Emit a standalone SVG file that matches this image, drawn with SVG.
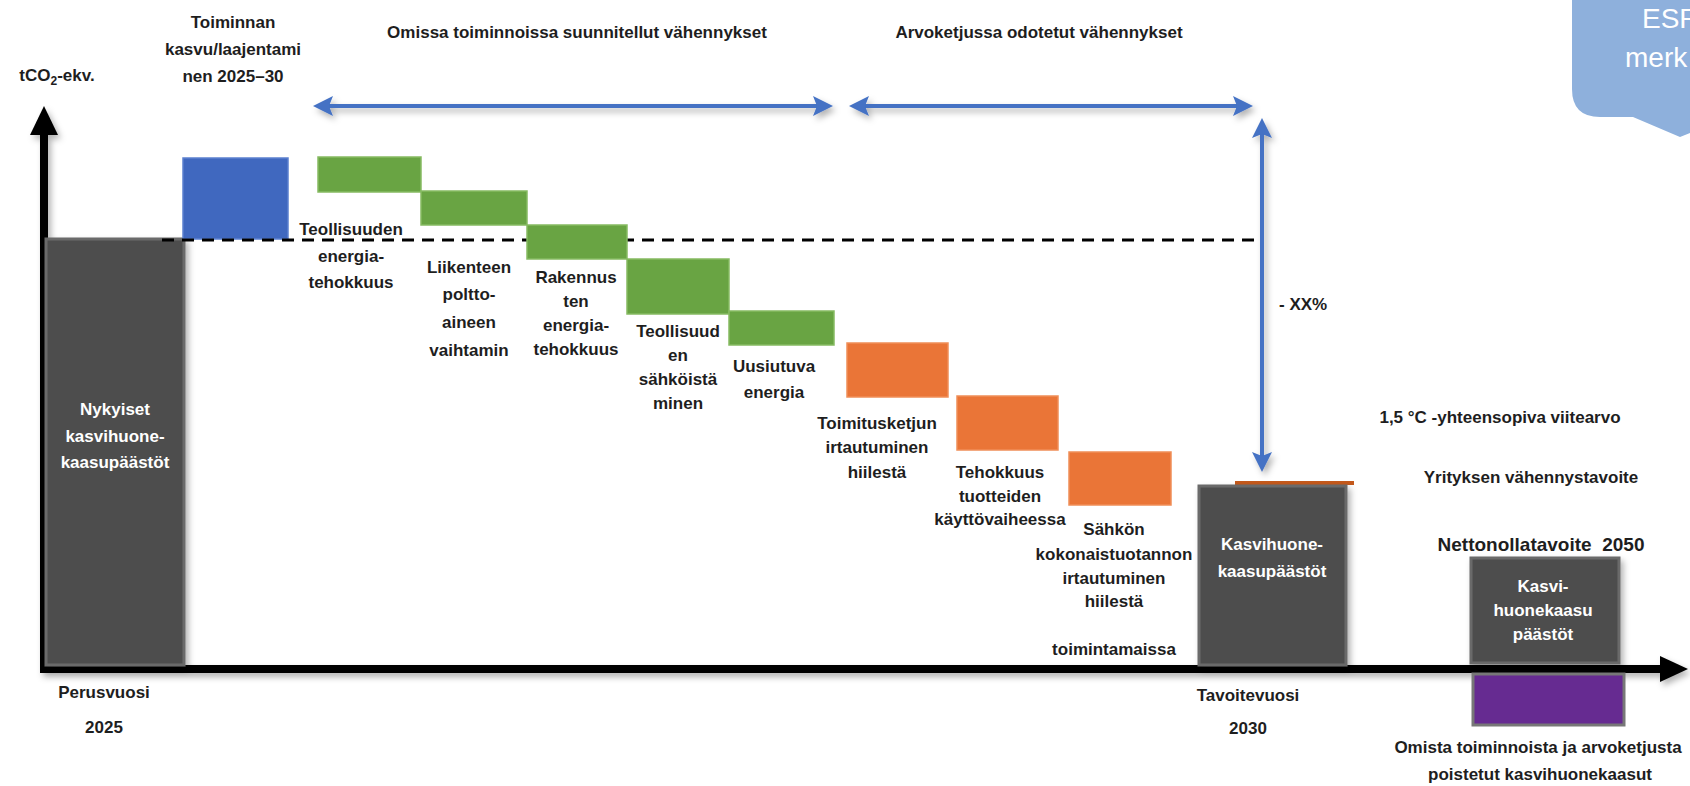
<svg xmlns="http://www.w3.org/2000/svg" width="1690" height="786" viewBox="0 0 1690 786">
<style>
text{font-family:"Liberation Sans",Arial,sans-serif;font-weight:bold;font-size:17px;fill:#1e1e1e;text-anchor:middle}
.w{fill:#ffffff}
.grey{fill:#4e4e4e;stroke:#6b6b6b;stroke-width:3}
.green{fill:#69a443;stroke:#86bb62;stroke-width:1.5}
.orange{fill:#ea7537;stroke:#f08e58;stroke-width:1.5}
.blue{fill:#4068bf;stroke:#5b80cf;stroke-width:1.5}
.barrow{stroke:#4472c4;stroke-width:4;fill:none}
.axis{stroke:#000;stroke-width:8;fill:none}
.dash{stroke:#000;stroke-width:3;stroke-dasharray:12 8;fill:none}
</style>
<defs>
<filter id="sh" x="-10%" y="-10%" width="130%" height="130%">
<feDropShadow dx="3" dy="4" stdDeviation="3" flood-color="#000" flood-opacity="0.3"/>
</filter>
<marker id="bh" viewBox="0 0 20 20" refX="10" refY="10" markerWidth="20" markerHeight="20" markerUnits="userSpaceOnUse" orient="auto-start-reverse">
<path d="M0,0 L20,10 L0,20 L4,10 Z" fill="#4472c4"/>
</marker>
</defs>
<rect width="1690" height="786" fill="#ffffff"/>

<g id="callout">
<path d="M1572,-5 L1572,89 Q1572,117 1600,117 L1633,117 L1680,137 L1695,131 L1695,-5 Z" fill="#8eb0dc"/>
<text x="1642" y="28" class="w" style="font-weight:normal;font-size:28px;text-anchor:start">ESRS</text>
<text x="1625" y="67" class="w" style="font-weight:normal;font-size:28px;text-anchor:start">merk</text>
</g>

<g id="axes" filter="url(#sh)">
<path class="axis" d="M44,130 L44,669 L1662,669"/>
<path d="M30,135 L44,106 L58,135 Z" fill="#000"/>
<path d="M1660,656 L1688,669 L1660,682 Z" fill="#000"/>
</g>
<text x="57" y="81">tCO<tspan font-size="12" dy="4">2</tspan><tspan dy="-4">-ekv.</tspan></text>

<g id="baseline-bar">
<rect class="grey" x="46" y="239" width="138" height="426" filter="url(#sh)"/>
<text class="w" x="115" y="415">Nykyiset</text>
<text class="w" x="115" y="442">kasvihuone-</text>
<text class="w" x="115" y="468">kaasupäästöt</text>
</g>
<g id="baseline-label">
<text x="104" y="698">Perusvuosi</text>
<text x="104" y="733">2025</text>
</g>

<g id="growth">
<rect class="blue" x="183" y="158" width="105" height="81"/>
<text x="233" y="28">Toiminnan</text>
<text x="233" y="55">kasvu/laajentami</text>
<text x="233" y="82">nen 2025–30</text>
</g>

<g id="connectors">
<path class="dash" d="M162,240 L1254,240"/>
<g filter="url(#sh)">
<path class="barrow" d="M323,106 L823,106" marker-start="url(#bh)" marker-end="url(#bh)"/>
<path class="barrow" d="M859,106 L1243,106" marker-start="url(#bh)" marker-end="url(#bh)"/>
<path class="barrow" d="M1262,128 L1262,462" marker-start="url(#bh)" marker-end="url(#bh)"/>
</g>
<path d="M1235,483 L1354,483" stroke="#c4591b" stroke-width="4"/>
</g>

<g id="heading-own">
<text x="577" y="38">Omissa toiminnoissa suunnitellut vähennykset</text>
</g>
<g id="heading-chain">
<text x="1039" y="38">Arvoketjussa odotetut vähennykset</text>
</g>

<g id="g1">
<rect class="green" x="318" y="157" width="103" height="35"/>
<text x="351" y="235">Teollisuuden</text>
<text x="351" y="262">energia-</text>
<text x="351" y="288">tehokkuus</text>
</g>
<g id="g2">
<rect class="green" x="421" y="191" width="106" height="34"/>
<text x="469" y="273">Liikenteen</text>
<text x="469" y="300">poltto-</text>
<text x="469" y="328">aineen</text>
<text x="469" y="356">vaihtamin</text>
</g>
<g id="g3">
<rect class="green" x="527" y="225" width="100" height="34"/>
<text x="576" y="283">Rakennus</text>
<text x="576" y="307">ten</text>
<text x="576" y="331">energia-</text>
<text x="576" y="355">tehokkuus</text>
</g>
<g id="g4">
<rect class="green" x="627" y="259" width="102" height="55"/>
<text x="678" y="337">Teollisuud</text>
<text x="678" y="361">en</text>
<text x="678" y="385">sähköistä</text>
<text x="678" y="409">minen</text>
</g>
<g id="g5">
<rect class="green" x="729" y="311" width="105" height="34"/>
<text x="774" y="372">Uusiutuva</text>
<text x="774" y="398">energia</text>
</g>

<g id="o1">
<rect class="orange" x="847" y="343" width="101" height="54"/>
<text x="877" y="429">Toimitusketjun</text>
<text x="877" y="453">irtautuminen</text>
<text x="877" y="478">hiilestä</text>
</g>
<g id="o2">
<rect class="orange" x="957" y="396" width="101" height="54"/>
<text x="1000" y="478">Tehokkuus</text>
<text x="1000" y="502">tuotteiden</text>
<text x="1000" y="525">käyttövaiheessa</text>
</g>
<g id="o3">
<rect class="orange" x="1069" y="452" width="102" height="53"/>
<text x="1114" y="535">Sähkön</text>
<text x="1114" y="560">kokonaistuotannon</text>
<text x="1114" y="584">irtautuminen</text>
<text x="1114" y="607">hiilestä</text>
<text x="1114" y="655">toimintamaissa</text>
</g>

<g id="xx">
<text x="1279" y="310" style="text-anchor:start">- XX%</text>
</g>

<g id="target-bar">
<rect class="grey" x="1199" y="486" width="147" height="179" filter="url(#sh)"/>
<text class="w" x="1272" y="550">Kasvihuone-</text>
<text class="w" x="1272" y="577">kaasupäästöt</text>
</g>
<g id="target-label">
<text x="1248" y="701">Tavoitevuosi</text>
<text x="1248" y="734">2030</text>
</g>

<g id="legend">
<text x="1500" y="423">1,5 °C -yhteensopiva viitearvo</text>
<text x="1531" y="483">Yrityksen vähennystavoite</text>
<text x="1541" y="551" style="font-size:19px;white-space:pre" xml:space="preserve">Nettonollatavoite  2050</text>
</g>

<g id="netzero-bar">
<rect class="grey" x="1471" y="558" width="148" height="105" filter="url(#sh)"/>
<text class="w" x="1543" y="592">Kasvi-</text>
<text class="w" x="1543" y="616">huonekaasu</text>
<text class="w" x="1543" y="640">päästöt</text>
</g>

<g id="removals">
<rect x="1473" y="674" width="151" height="51" fill="#662b91" stroke="#777" stroke-width="3"/>
<text x="1538" y="753">Omista toiminnoista ja arvoketjusta</text>
<text x="1540" y="780">poistetut kasvihuonekaasut</text>
</g>
</svg>
